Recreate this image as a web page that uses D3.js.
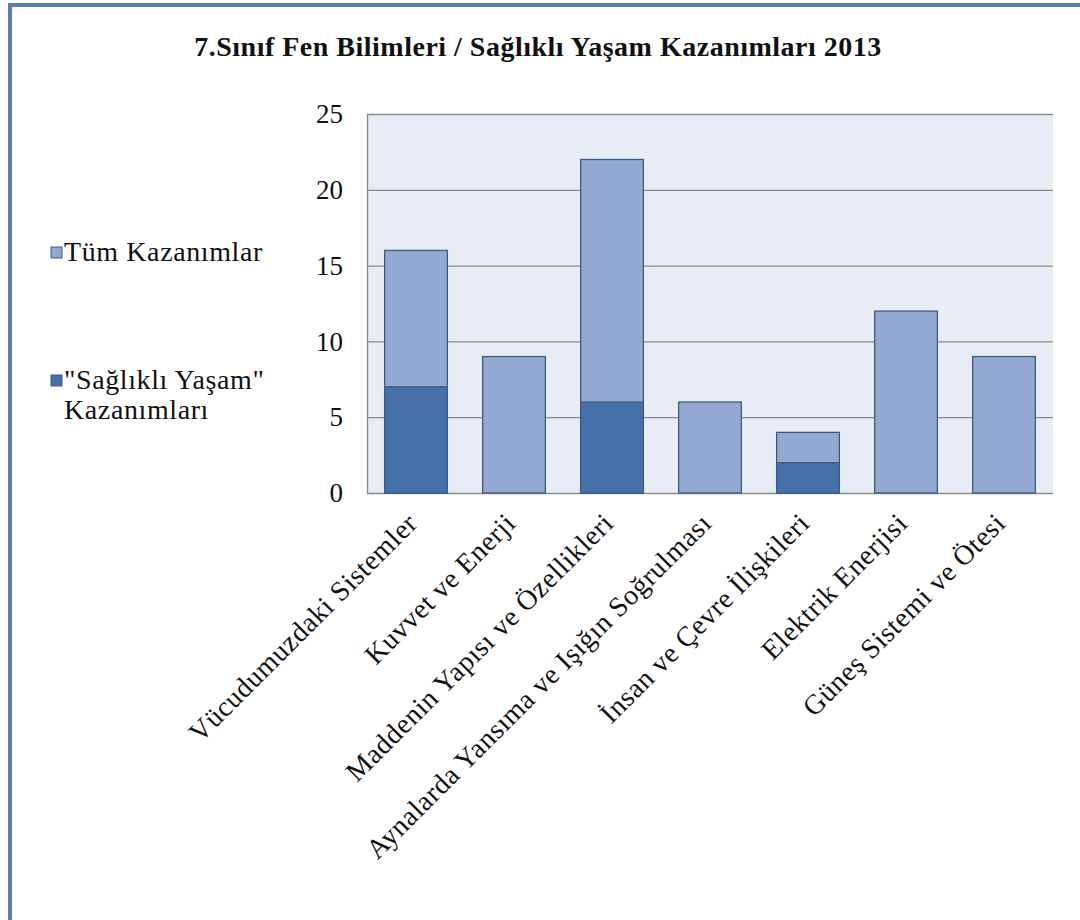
<!DOCTYPE html>
<html>
  <head>
    <meta charset="utf-8">
    <title>7.Sınıf Fen Bilimleri</title>
    <script src="https://cdnjs.cloudflare.com/ajax/libs/d3/7.8.5/d3.min.js"></script>
    <style>
      body { margin: 0; background: #ffffff; }
      svg text { font-family: "Liberation Serif", "Times New Roman", serif; fill: #111; }
    </style>
  </head>
  <body>
    <script>

      var categories = [
        "Vücudumuzdaki Sistemler",
        "Kuvvet ve Enerji",
        "Maddenin Yapısı ve Özellikleri",
        "Aynalarda Yansıma ve Işığın Soğrulması",
        "İnsan ve Çevre İlişkileri",
        "Elektrik Enerjisi",
        "Güneş Sistemi ve Ötesi"
      ];
      var tumValues = [16, 9, 22, 6, 4, 12, 9];
      var saglikValues = [7, 0, 6, 0, 2, 0, 0];
      var yTicks = [0, 5, 10, 15, 20, 25];
      var seriesNames = ["Tüm Kazanımlar", "\"Sağlıklı Yaşam\"", "Kazanımları"];

      var serif = "'Liberation Serif', 'Times New Roman', serif";
      var outerWidth = 1080;
      var outerHeight = 920;
      // plot area box
      var plot = { left: 367, top: 114, right: 1053, bottom: 493 };

      var svg = d3.select("body").append("svg")
        .attr("width", outerWidth)
        .attr("height", outerHeight);

      // outer frame
      svg.append("rect")
        .attr("x", 10).attr("y", 5)
        .attr("width", 1100).attr("height", 1000)
        .attr("fill", "#ffffff")
        .attr("stroke", "#5a7db4")
        .attr("stroke-width", 4);

      // title
      svg.append("text")
        .attr("x", 538).attr("y", 56)
        .attr("text-anchor", "middle")
        .style("font-family", serif)
        .style("font-size", "28px")
        .style("letter-spacing", "0.5px")
        .style("font-weight", "bold")
        .text("7.Sınıf Fen Bilimleri / Sağlıklı Yaşam Kazanımları 2013");

      var xScale = d3.scaleBand()
        .domain(categories)
        .range([plot.left, plot.right])
        .paddingInner(0.36)
        .paddingOuter(0.18);
      var yScale = d3.scaleLinear()
        .domain([0, 25])
        .range([plot.bottom, plot.top]);

      // plot background
      svg.append("rect")
        .attr("x", plot.left).attr("y", plot.top)
        .attr("width", plot.right - plot.left)
        .attr("height", plot.bottom - plot.top)
        .attr("fill", "#e8ecf4");

      // gridlines
      svg.append("g").selectAll("line").data(yTicks).enter().append("line")
        .attr("x1", plot.left).attr("x2", plot.right)
        .attr("y1", function (d) { return yScale(d) + 0.5; })
        .attr("y2", function (d) { return yScale(d) + 0.5; })
        .attr("stroke", "#8a8a8a")
        .attr("stroke-width", 1.3);

      // left axis line
      svg.append("line")
        .attr("x1", plot.left + 0.5).attr("x2", plot.left + 0.5)
        .attr("y1", plot.top).attr("y2", plot.bottom)
        .attr("stroke", "#8a8a8a")
        .attr("stroke-width", 1.3);

      // y axis labels
      var yAxisG = svg.append("g")
        .attr("transform", "translate(" + (plot.left - 20) + ",0)")
        .call(d3.axisLeft(yScale).tickValues(yTicks).tickSize(0).tickPadding(4));
      yAxisG.select(".domain").remove();
      yAxisG.selectAll("text")
        .style("font-size", "27px")
        .style("font-family", serif)
        .attr("fill", "#111");

      // bars: all kazanimlar
      svg.append("g").selectAll("rect").data(tumValues).enter().append("rect")
        .attr("x", function (d, i) { return xScale(categories[i]); })
        .attr("y", function (d) { return yScale(d); })
        .attr("width", xScale.bandwidth())
        .attr("height", function (d) { return plot.bottom - yScale(d); })
        .attr("fill", "#94a9d2")
        .attr("stroke", "#3d5a86")
        .attr("stroke-width", 1.3);

      // bars: saglikli yasam (drawn over the first series)
      svg.append("g").selectAll("rect")
        .data(saglikValues.map(function (v, i) { return { v: v, c: categories[i] }; })
          .filter(function (d) { return d.v > 0; }))
        .enter().append("rect")
        .attr("x", function (d) { return xScale(d.c); })
        .attr("y", function (d) { return yScale(d.v); })
        .attr("width", xScale.bandwidth())
        .attr("height", function (d) { return plot.bottom - yScale(d.v); })
        .attr("fill", "#4571a8")
        .attr("stroke", "#3d5a86")
        .attr("stroke-width", 1.3);

      // x labels, rotated
      svg.append("g").selectAll("text").data(categories).enter().append("text")
        .attr("transform", function (d) {
          return "translate(" + (xScale(d) + xScale.bandwidth() / 2 + 3) + "," + 525 + ") rotate(-45)";
        })
        .attr("text-anchor", "end")
        .style("font-family", serif)
        .style("font-size", "28px")
        .style("letter-spacing", "0.5px")
        .text(function (d) { return d; });

      // legend
      var legend = svg.append("g");
      legend.append("rect")
        .attr("x", 51).attr("y", 247).attr("width", 11).attr("height", 11)
        .attr("fill", "#94a9d2").attr("stroke", "#3d5a86").attr("stroke-width", 1);
      legend.append("text")
        .attr("x", 64).attr("y", 261)
        .style("font-family", serif)
        .style("font-size", "28px")
        .style("letter-spacing", "0.6px")
        .text(seriesNames[0]);
      legend.append("rect")
        .attr("x", 51).attr("y", 375).attr("width", 11).attr("height", 11)
        .attr("fill", "#4571a8").attr("stroke", "#3d5a86").attr("stroke-width", 1);
      legend.append("text")
        .attr("x", 64).attr("y", 389)
        .style("font-family", serif)
        .style("font-size", "28px")
        .style("letter-spacing", "0.6px")
        .text(seriesNames[1]);
      legend.append("text")
        .attr("x", 64).attr("y", 419)
        .style("font-family", serif)
        .style("font-size", "28px")
        .style("letter-spacing", "0.6px")
        .text(seriesNames[2]);

    </script>
  </body>
</html>
